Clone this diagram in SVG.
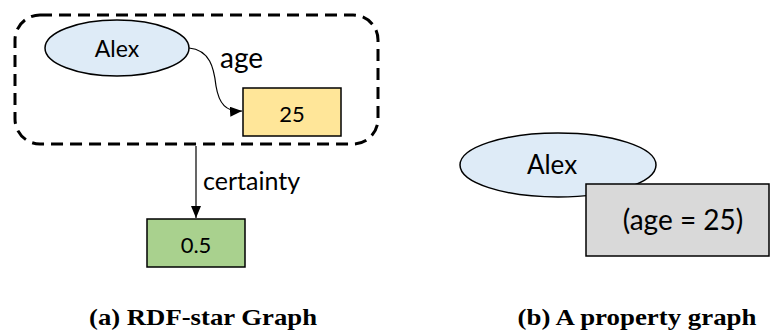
<svg xmlns="http://www.w3.org/2000/svg" width="773" height="334" viewBox="0 0 773 334">
  <style>
    .lbl { font-family: Lato, "Open Sans", "Liberation Sans", sans-serif; fill: #000; }
    .cap { font-family: "Liberation Serif", serif; font-weight: bold; font-size: 23px; fill: #000; text-anchor: middle; }
    .edge { fill: none; stroke: #000; stroke-width: 1.2; }
    .node { stroke: #000; stroke-width: 1.5; }
  </style>
  <defs>
    <marker id="arrow" viewBox="0 0 12 10" refX="12" refY="5" markerWidth="12" markerHeight="10" markerUnits="userSpaceOnUse" orient="auto">
      <path d="M0,0 L12,5 L0,10 z" fill="#000"/>
    </marker>
  </defs>
  <rect width="773" height="334" fill="#fff"/>

  <!-- quoted triple boundary -->
  <g id="triple">
    <rect x="15" y="15" width="363" height="129" rx="25" ry="25" fill="none" stroke="#000" stroke-width="3" stroke-dasharray="12,7"/>
  </g>

  <!-- connectors -->
  <g id="connectors">
    <path class="edge" d="M189,48 C210,50 214,68 216,86 C219,104 226,112 242,111" marker-end="url(#arrow)"/>
    <text class="lbl" x="220" y="68" font-size="28">age</text>
    <line class="edge" x1="196" y1="146" x2="196" y2="218" marker-end="url(#arrow)"/>
    <text class="lbl" x="203" y="190" font-size="25">certainty</text>
  </g>

  <g id="alex-rdf">
    <ellipse class="node" cx="117" cy="48" rx="72" ry="28" fill="#DEEBF7"/>
    <text class="lbl" x="117" y="57" font-size="23" text-anchor="middle">Alex</text>
  </g>
  <g id="age-value">
    <rect class="node" x="243" y="88" width="98" height="48" fill="#FFE699"/>
    <text class="lbl" x="292" y="122" font-size="22" text-anchor="middle">25</text>
  </g>
  <g id="certainty-value">
    <rect class="node" x="147" y="219" width="98" height="48" fill="#A9D18E"/>
    <text class="lbl" x="196" y="253" font-size="22" text-anchor="middle">0.5</text>
  </g>

  <g id="alex-pg">
    <ellipse class="node" cx="558" cy="165" rx="98" ry="32" fill="#DEEBF7"/>
    <text class="lbl" x="552" y="174" font-size="26" text-anchor="middle">Alex</text>
  </g>
  <g id="alex-props">
    <rect class="node" x="586" y="184" width="183" height="72" fill="#D9D9D9"/>
    <text class="lbl" x="683" y="230" font-size="28" text-anchor="middle">(age = 25)</text>
  </g>

  <g id="captions">
    <text class="cap" x="203" y="325" textLength="228" lengthAdjust="spacingAndGlyphs">(a) RDF-star Graph</text>
    <text class="cap" x="637" y="325" textLength="239" lengthAdjust="spacingAndGlyphs">(b) A property graph</text>
  </g>
</svg>
